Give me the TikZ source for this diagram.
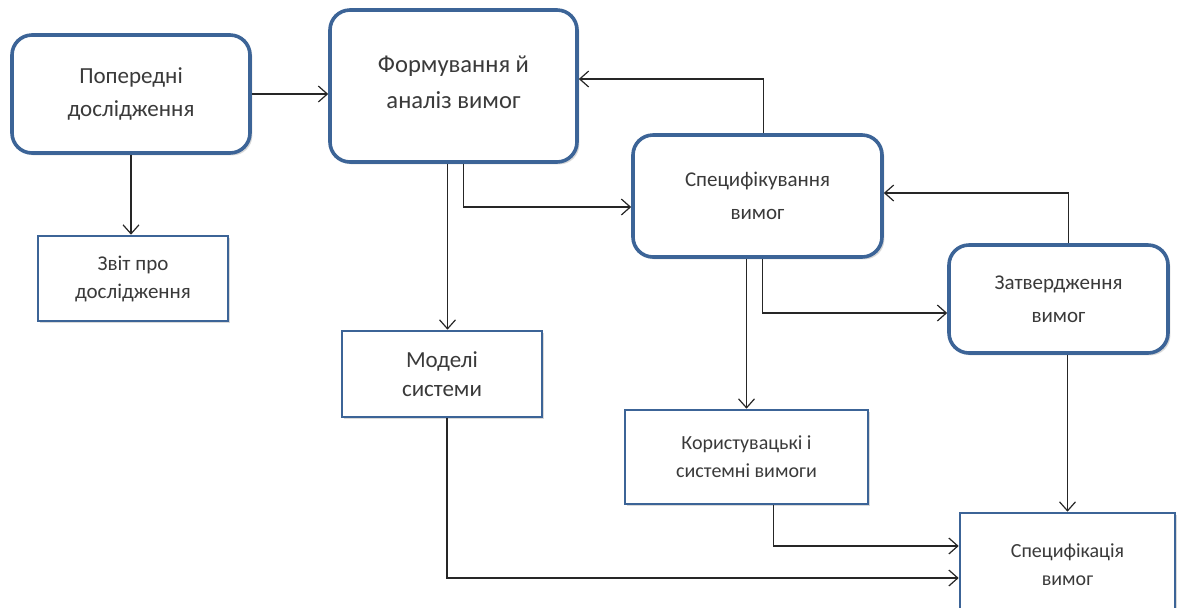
\documentclass[tikz,border=0pt]{standalone}
\usepackage{fontspec}
\setmainfont{Carlito}
\usetikzlibrary{positioning,arrows.meta,shadows}
\definecolor{edge}{HTML}{3C6497}
\definecolor{txt}{HTML}{3A3A3A}

\begin{document}
\begin{tikzpicture}[x=0.5pt, y=-0.5pt,
  proc/.style={draw=edge, line width=1.8pt, rounded corners=10pt, fill=white, align=center, text=txt,
    font=\fontsize{10.5}{16.5}\selectfont, drop shadow={opacity=0.3, shadow xshift=1.2pt, shadow yshift=-1.2pt}},
  doc/.style={draw=edge, line width=1.3pt, fill=white, align=center, text=txt,
    font=\fontsize{10.5}{14}\selectfont, drop shadow={opacity=0.3, shadow xshift=1.2pt, shadow yshift=-1.2pt}},
  arr/.style={-{Straight Barb[length=4.5pt, width=8pt]}, line width=0.6pt, draw=black!85}]
\clip (0,0) rectangle (1178,607);
\node[proc, minimum width=119pt, minimum height=59pt, font=\fontsize{11.5}{16.5}\selectfont] (p) at (131,94) {Попередні\\дослідження};
\node[proc, minimum width=123.5pt, minimum height=76pt] (f) at (453.5,86) {};
\node[font=\fontsize{12.3}{18}\selectfont, text=txt, align=center] (ft) at (453.5,82) {Формування й\\аналіз вимог};
\node[proc, minimum width=124.5pt, minimum height=61pt] (s) at (757.5,196) {Специфікування\\вимог};
\node[proc, minimum width=109.5pt, minimum height=54pt] (z) at (1058.5,299) {Затвердження\\вимог};
\node[doc, minimum width=95pt, minimum height=42.5pt] (r) at (133,278.5) {Звіт про\\дослідження};
\node[doc, minimum width=100pt, minimum height=43pt, font=\fontsize{11.5}{14.5}\selectfont] (m) at (442,374) {Моделі\\системи};
\node[doc, minimum width=121.5pt, minimum height=47pt, font=\fontsize{10}{14}\selectfont] (k) at (746.5,457) {Користувацькі і\\системні вимоги};
\node[doc, minimum width=107.5pt, minimum height=60pt, font=\fontsize{10}{14}\selectfont] (sp) at (1067.5,573) {};
\node[font=\fontsize{10}{14}\selectfont, text=txt, align=center] (spt) at (1067.5,565) {Специфікація\\вимог};
\draw[arr] (p.east) -- (p.east -| f.west); \draw[arr] (p.south) -- (p.south |- r.north);
\draw[arr] ([xshift=-3pt]f.south) -- ([xshift=-3pt]f.south |- m.north);
\draw[arr] ([xshift=5pt]f.south) |- ([yshift=-5.5pt]s.west); \draw[arr] ([xshift=3pt]s.north) |- ([yshift=3.5pt]f.east);
\draw[arr] (k.north |- s.south) -- (k.north); \draw[arr] ([xshift=2.5pt]s.south) |- ([yshift=-7pt]z.west);
\draw[arr] ([xshift=5pt]z.north) |- ([yshift=1.5pt]s.east); \draw[arr] (sp.north |- z.south) -- (sp.north);
\draw[arr] ([xshift=13.5pt]k.south) |- ([yshift=13.5pt]sp.west); \draw[arr] ([xshift=2.5pt]m.south) |- ([yshift=-2.5pt]sp.west);
\end{tikzpicture}
\end{document}
